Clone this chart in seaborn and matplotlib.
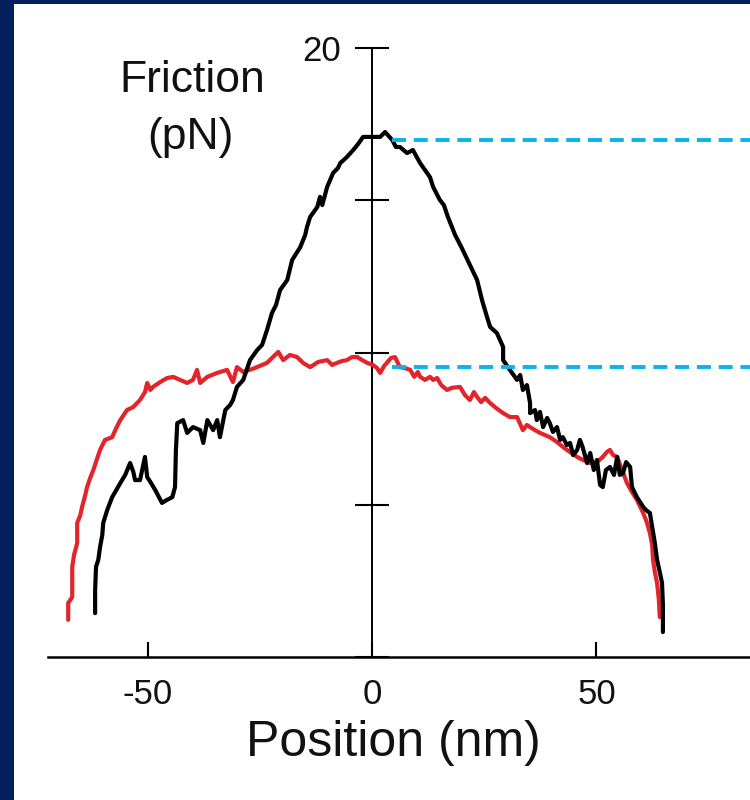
import numpy as np
import pandas as pd
import matplotlib
matplotlib.use("Agg")
import matplotlib.pyplot as plt
import seaborn as sns
from matplotlib.patches import Rectangle

# ---- data (position in nm, friction in pN) ----
black_x = [-61.7, -61.7, -61.5, -61.0, -60.6, -60.1, -59.9, -59.0, -57.9, -57.0, -56.1, -55.0,
           -53.9, -53.2, -52.8, -51.7, -50.6, -50.1, -49.4, -48.3, -46.8, -45.7, -44.5, -43.9,
           -43.7, -43.4, -42.1, -41.2, -39.9, -38.3, -37.6, -36.7, -35.4, -34.5, -33.9, -32.7,
           -31.6, -31.0, -30.1, -28.7, -27.2, -25.6, -24.5, -23.4, -22.3, -21.4, -20.5, -18.9,
           -17.8, -16.0, -14.9, -14.5, -13.8, -12.2, -11.6, -11.1, -10.0, -8.7, -7.6, -7.1,
           -5.6, -4.2, -3.1, -2.0, 0.0, 1.8, 2.9, 4.5, 5.3, 6.2, 7.8, 9.1,
           10.7, 11.8, 12.9, 13.6, 15.1, 16.0, 16.9, 18.5, 20.0, 21.8, 23.4, 24.5,
           25.6, 26.3, 27.8, 29.2, 29.2, 30.7, 32.3, 33.0, 33.6, 34.5, 35.2, 35.2,
           36.3, 36.7, 37.4, 38.1, 39.0, 39.6, 40.3, 41.2, 41.9, 42.5, 43.4, 44.1,
           44.8, 45.7, 46.3, 46.9, 47.9, 48.6, 49.4, 50.1, 50.8, 51.4, 52.1, 53.0,
           53.9, 54.6, 55.2, 55.9, 56.6, 57.5, 57.9, 59.0, 60.4, 61.0, 61.9, 62.4,
           63.0, 63.5, 64.1, 64.6, 64.8, 64.8]
black_y = [1.44, 2.20, 2.96, 3.19, 3.61, 4.01, 4.40, 4.83, 5.25, 5.48, 5.71, 5.98,
           6.37, 6.08, 5.81, 5.81, 6.57, 5.91, 5.75, 5.48, 5.06, 5.16, 5.25, 5.58,
           6.80, 7.68, 7.78, 7.36, 7.55, 7.45, 7.03, 7.78, 7.45, 7.78, 7.22, 8.11,
           8.28, 8.44, 8.87, 9.10, 9.75, 10.08, 10.25, 10.74, 11.30, 11.56, 12.05, 12.38,
           13.04, 13.46, 13.86, 14.12, 14.45, 14.78, 15.11, 14.84, 15.44, 15.89, 16.06, 16.22,
           16.42, 16.65, 16.85, 17.08, 17.08, 17.08, 17.24, 16.98, 16.75, 16.75, 16.55, 16.65,
           16.22, 15.99, 15.76, 15.44, 15.01, 14.84, 14.45, 13.86, 13.43, 12.87, 12.38, 11.72,
           11.17, 10.84, 10.64, 10.18, 9.75, 9.43, 9.10, 9.26, 8.77, 8.93, 8.34, 8.01,
           8.11, 7.78, 8.05, 7.55, 7.85, 7.68, 7.39, 7.55, 7.13, 7.22, 6.96, 7.03,
           6.63, 6.80, 7.13, 6.90, 6.37, 6.70, 6.14, 6.47, 5.65, 5.58, 6.14, 6.24,
           5.98, 6.57, 5.98, 6.04, 6.40, 6.24, 5.58, 5.25, 4.93, 4.83, 4.73, 4.27,
           3.74, 3.19, 2.79, 2.43, 1.71, 0.82]

red_x = [-67.7, -67.7, -66.8, -66.8, -66.4, -65.7, -65.7, -65.0, -64.6, -63.9, -63.5, -62.8,
         -62.1, -61.2, -60.6, -59.5, -58.4, -57.9, -57.0, -56.1, -54.6, -53.2, -51.7, -50.6,
         -50.1, -49.4, -48.8, -47.2, -45.7, -44.3, -42.8, -41.2, -39.9, -39.0, -38.3, -36.7,
         -34.5, -32.3, -31.0, -30.1, -28.7, -26.1, -23.4, -20.9, -19.8, -18.3, -16.7, -15.4,
         -13.8, -12.0, -10.0, -8.9, -7.8, -6.7, -5.6, -4.5, -3.3, -2.2, -1.1, 0.2,
         1.1, 1.8, 2.7, 3.3, 4.2, 5.1, 6.2, 7.3, 8.5, 9.4, 10.2, 10.7,
         11.8, 12.9, 13.6, 14.5, 15.4, 16.7, 17.8, 19.6, 20.7, 21.8, 22.7, 23.4,
         24.3, 25.2, 26.3, 27.6, 29.2, 30.7, 32.3, 33.6, 34.5, 35.2, 36.3, 37.4,
         38.5, 39.6, 41.2, 42.5, 44.1, 45.7, 47.0, 48.6, 50.1, 51.4, 52.3, 53.0,
         53.7, 54.6, 55.7, 56.8, 57.9, 59.0, 60.4, 61.2, 61.9, 62.4, 62.6, 63.0,
         63.5, 63.9, 64.1]
red_y = [1.22, 1.77, 1.97, 2.96, 3.35, 3.74, 4.40, 4.66, 4.93, 5.32, 5.58, 5.88,
         6.14, 6.54, 6.80, 7.13, 7.19, 7.22, 7.52, 7.78, 8.11, 8.21, 8.44, 8.70,
         9.00, 8.77, 8.87, 9.03, 9.16, 9.20, 9.10, 9.00, 9.10, 9.43, 9.00, 9.20,
         9.33, 9.43, 9.03, 9.52, 9.36, 9.49, 9.66, 10.02, 9.75, 9.92, 9.85, 9.66,
         9.52, 9.69, 9.75, 9.59, 9.66, 9.72, 9.75, 9.85, 9.85, 9.75, 9.66, 9.59,
         9.49, 9.33, 9.56, 9.66, 9.82, 9.85, 9.52, 9.49, 9.43, 9.20, 9.36, 9.20,
         9.10, 9.20, 9.10, 9.16, 8.93, 8.77, 8.84, 8.87, 8.60, 8.44, 8.70, 8.54,
         8.37, 8.51, 8.34, 8.18, 8.01, 7.88, 7.88, 7.45, 7.62, 7.55, 7.45, 7.36,
         7.29, 7.22, 7.06, 6.90, 6.73, 6.57, 6.47, 6.37, 6.40, 6.57, 6.73, 6.80,
         6.63, 6.57, 6.14, 5.71, 5.42, 5.16, 4.73, 4.43, 4.07, 3.68, 3.19, 2.79,
         2.43, 1.87, 1.31]

peak_levels = [16.98, 9.52]     # dashed reference levels (pN)
dash_start = 4.4                 # nm

x_ticks = [-50, 0, 50]
x_tick_labels = ["-50", "0", "50"]
y_ticks = [0, 5, 10, 15, 20]
y_tick_labels = ["", "", "", "", "20"]

# ---- style ----
sns.set_theme(style="white")
plt.rcParams['font.family'] = ['Liberation Sans', 'DejaVu Sans']

NAVY = "#031f5e"
RED = "#e3242b"
CYAN = "#0ab2ef"

fig = plt.figure(figsize=(7.5, 8), dpi=100, facecolor=NAVY)
bg = Rectangle((14 / 750, 0), 1, 1 - 4 / 800, transform=fig.transFigure,
               facecolor="white", edgecolor="none", zorder=-10)
fig.patches.append(bg)

ax = fig.add_axes([48 / 750, 1 - 657 / 800, 1 - 48 / 750, (657 - 48) / 800])
ax.set_facecolor("none")
ax.set_zorder(5)

df_b = pd.DataFrame({"x": black_x, "y": black_y})
df_r = pd.DataFrame({"x": red_x, "y": red_y})
sns.lineplot(data=df_b, x="x", y="y", ax=ax, color="black", lw=3.0, sort=False,
             estimator=None, zorder=3)
sns.lineplot(data=df_r, x="x", y="y", ax=ax, color=RED, lw=3.0, sort=False,
             estimator=None, zorder=2)

for lvl in peak_levels:
    ax.plot([dash_start, 90], [lvl, lvl], color=CYAN, lw=2.8, ls=(0, (3.6, 2.0)),
            zorder=4, clip_on=False)

ax.set_xlim(-72.2, 84.2)
ax.set_ylim(0, 20)

for s in ["top", "right"]:
    ax.spines[s].set_visible(False)
ax.spines["left"].set_position(("data", 0))
ax.spines["left"].set_color("black")
ax.spines["bottom"].set_color("black")
ax.spines["left"].set_linewidth(1.4)
ax.spines["bottom"].set_linewidth(1.8)
ax.spines["left"].set_zorder(1)

ax.set_xticks(x_ticks)
ax.set_xticklabels(x_tick_labels)
ax.set_yticks(y_ticks)
ax.set_yticklabels(y_tick_labels)
ax.tick_params(axis="x", bottom=True, direction="in", length=11, width=1.5, color="black",
               labelsize=25, pad=15, labelcolor="#111111")
ax.tick_params(axis="y", left=True, direction="inout", length=25, width=1.5, color="black",
               labelsize=25, pad=10, labelcolor="#111111")
ax.set_xlabel("")
ax.set_ylabel("")

fig.text(192 / 750, 1 - 80 / 800, "Friction", ha="center", va="center", fontsize=32,
         color="#111111")
fig.text(190 / 750, 1 - 138 / 800, "(pN)", ha="center", va="center", fontsize=32,
         color="#111111")
fig.text(393 / 750, 1 - 743 / 800, "Position (nm)", ha="center", va="center",
         fontsize=36, color="#111111")

fig.savefig("out.png", dpi=100, facecolor=NAVY)
